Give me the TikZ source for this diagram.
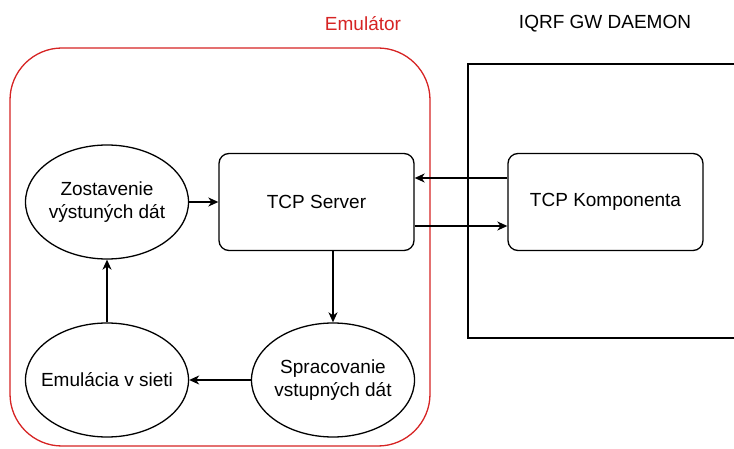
\documentclass[tikz,border=0pt]{standalone}
\usepackage{fontspec}
\setmainfont{Liberation Sans}
\usetikzlibrary{arrows.meta,shapes.geometric}
\definecolor{emured}{RGB}{214,36,36}
\tikzset{
  every node/.style={font=\fontsize{19}{22.5}\selectfont, align=center},
  box/.style={draw, line width=1.3pt, rounded corners=10pt, minimum width=195pt, minimum height=97pt, inner sep=0pt},
  oval/.style={draw, ellipse, line width=1.3pt, minimum width=163pt, minimum height=114pt, inner sep=0pt},
  conn/.style={line width=1.3pt, -{Stealth[length=10pt,width=9pt,inset=3pt]}},
}
\begin{document}
\begin{tikzpicture}[x=1pt,y=-1pt]
\useasboundingbox (0,0) rectangle (734,449);
% containers
\draw[emured, line width=1.3pt, rounded corners=52pt] (10,48) rectangle (430,446);
\draw[line width=1.3pt] (734,64) -- (468,64) -- (468,338) -- (734,338);
\node[text=emured] (emu) at (363,24) {Emulátor};
\node (gw) at (605,24) {IQRF GW DAEMON};
% nodes
\node[box] (srv) at (316.5,202) {TCP Server};
\node[box] (komp) at (605.5,202) {TCP Komponenta};
\node[oval] (zost) at (107,202) {};
\node (zostT) at (zost) {Zostavenie\\výstuných dát};
\node[oval] (emul) at (107,380) {};
\node (emulT) at (emul) {Emulácia v sieti};
\node[oval] (sprac) at (333,380) {};
\node (spracT) at (sprac) {Spracovanie\\vstupných dát};
% connectors
\draw[conn] (komp.west |- 0,178) -- (srv.east |- 0,178);
\draw[conn] (srv.east |- 0,226) -- (komp.west |- 0,226);
\draw[conn] (zost) -- (srv);
\draw[conn] (srv.south -| sprac.north) -- (sprac.north);
\draw[conn] (sprac) -- (emul);
\draw[conn] (emul) -- (zost);
\end{tikzpicture}
\end{document}
